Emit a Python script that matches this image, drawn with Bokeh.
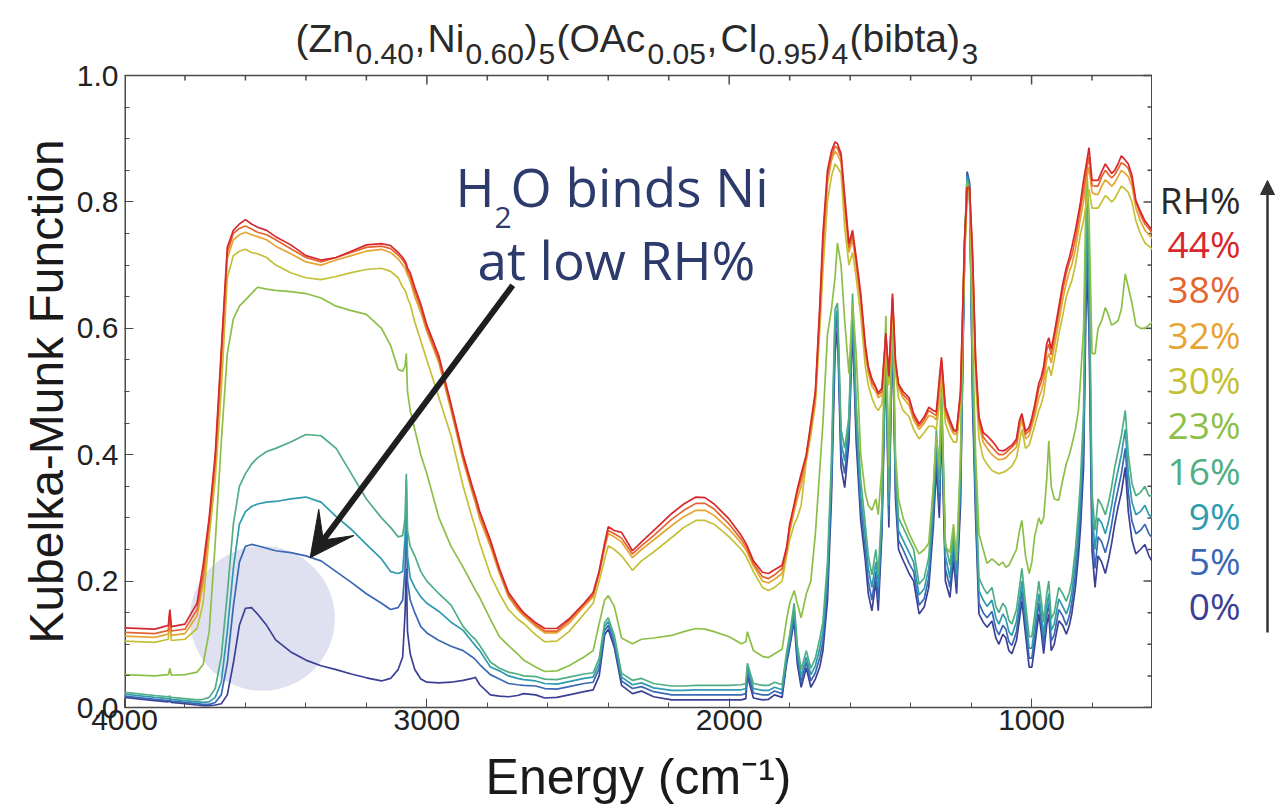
from bokeh.plotting import figure
from bokeh.layouts import row
from bokeh.models import Range1d, Label, Arrow, NormalHead, VeeHead, FixedTicker, PrintfTickFormatter
from bokeh.embed import file_html
from bokeh.resources import INLINE

# ---------------- data ----------------
energy = [4000, 3900, 3855, 3850, 3845, 3800, 3760, 3740, 3720, 3700,
          3680, 3660, 3640, 3620, 3600, 3580, 3560, 3530, 3500, 3450,
          3400, 3350, 3300, 3250, 3200, 3150, 3120, 3095, 3080, 3072,
          3068, 3064, 3055, 3040, 3020, 3000, 2960, 2920, 2880, 2850,
          2840, 2825, 2790, 2760, 2730, 2700, 2680, 2640, 2610, 2570,
          2530, 2480, 2450, 2430, 2412, 2400, 2380, 2356, 2320, 2290,
          2250, 2190, 2150, 2110, 2080, 2050, 2000, 1960, 1945, 1940,
          1920, 1890, 1870, 1850, 1825, 1810, 1800, 1785, 1775, 1762,
          1745, 1730, 1715, 1700, 1690, 1675, 1662, 1650, 1642, 1630,
          1618, 1604, 1592, 1580, 1565, 1550, 1540, 1528, 1515, 1507,
          1495, 1482, 1472, 1460, 1450, 1440, 1425, 1405, 1390, 1372,
          1355, 1340, 1325, 1315, 1305, 1298, 1285, 1270, 1258, 1248,
          1235, 1222, 1213, 1205, 1195, 1185, 1174, 1160, 1147, 1131,
          1118, 1108, 1095, 1085, 1075, 1065, 1050, 1040, 1032, 1020,
          1008, 999, 990, 976, 968, 960, 950, 943, 935, 925,
          910, 897, 885, 875, 867, 855, 845, 838, 828, 818,
          810, 800, 790, 780, 768, 756, 745, 735, 725, 714,
          703, 690, 680, 668, 655, 640, 625, 612, 600]

km_rh0 = [.016, .011, .009, .010, .008, .006, .004, .003, .003, .004,
          .006, .020, .070, .130, .157, .158, .148, .130, .107, .088,
          .075, .066, .060, .053, .047, .042, .046, .060, .080, .150,
          .220, .120, .085, .060, .045, .040, .039, .040, .043, .046,
          .048, .036, .020, .018, .017, .019, .022, .020, .015, .016,
          .020, .025, .028, .050, .115, .124, .095, .035, .022, .026,
          .017, .012, .012, .012, .012, .012, .012, .012, .014, .050,
          .015, .012, .013, .020, .016, .070, .095, .137, .070, .032,
          .063, .032, .045, .065, .090, .169, .328, .560, .600, .380,
          .348, .420, .600, .420, .296, .233, .180, .153, .200, .153,
          .275, .560, .285, .600, .330, .250, .233, .212, .200, .148,
          .159, .190, .285, .380, .300, .450, .200, .174, .233, .180,
          .320, .700, .848, .830, .480, .300, .148, .135, .127, .137,
          .110, .100, .116, .110, .090, .085, .106, .140, .169, .116,
          .064, .064, .095, .148, .120, .085, .130, .148, .090, .100,
          .137, .130, .116, .130, .148, .190, .240, .285, .380, .700,
          .600, .248, .190, .240, .230, .212, .235, .260, .290, .317,
          .340, .380, .310, .265, .243, .250, .258, .240, .230]

km_rh5 = [.018, .013, .011, .012, .010, .008, .006, .005, .005, .008,
          .020, .070, .160, .230, .255, .258, .256, .252, .248, .245,
          .240, .232, .215, .198, .180, .165, .155, .158, .170, .220,
          .300, .200, .170, .150, .128, .118, .106, .097, .090, .080,
          .076, .068, .052, .045, .038, .036, .035, .034, .030, .029,
          .033, .038, .040, .062, .122, .130, .102, .042, .030, .033,
          .025, .020, .020, .020, .020, .020, .020, .020, .022, .058,
          .023, .020, .020, .026, .022, .075, .100, .145, .080, .040,
          .072, .042, .055, .080, .105, .190, .350, .590, .620, .400,
          .370, .440, .620, .440, .315, .250, .200, .170, .215, .170,
          .290, .580, .300, .610, .345, .265, .250, .228, .215, .162,
          .172, .205, .300, .400, .320, .470, .220, .190, .250, .195,
          .340, .710, .845, .825, .500, .320, .165, .150, .142, .152,
          .125, .115, .130, .124, .104, .098, .120, .155, .185, .130,
          .078, .078, .110, .165, .135, .100, .145, .165, .105, .115,
          .155, .145, .130, .145, .165, .210, .260, .310, .410, .740,
          .640, .280, .220, .270, .262, .245, .265, .290, .320, .345,
          .370, .410, .340, .295, .275, .280, .290, .275, .268]

km_rh9 = [.021, .016, .014, .015, .013, .011, .009, .008, .009, .016,
          .040, .120, .220, .290, .310, .318, .322, .325, .326, .330,
          .333, .325, .302, .282, .258, .235, .215, .212, .215, .270,
          .360, .240, .205, .190, .175, .165, .152, .135, .122, .104,
          .098, .090, .064, .058, .050, .046, .044, .042, .038, .037,
          .041, .046, .048, .070, .128, .136, .108, .048, .036, .039,
          .031, .027, .027, .028, .028, .028, .028, .028, .030, .064,
          .030, .027, .027, .032, .028, .080, .106, .155, .090, .050,
          .080, .052, .066, .095, .120, .210, .370, .610, .630, .420,
          .390, .450, .635, .460, .335, .270, .220, .190, .230, .190,
          .305, .590, .320, .620, .360, .280, .265, .245, .230, .178,
          .188, .220, .320, .420, .340, .490, .240, .205, .265, .210,
          .360, .720, .840, .820, .520, .340, .185, .170, .160, .170,
          .142, .132, .148, .140, .120, .114, .136, .170, .200, .146,
          .094, .094, .126, .180, .150, .115, .160, .180, .122, .132,
          .172, .160, .148, .162, .182, .230, .285, .335, .440, .780,
          .680, .310, .250, .300, .292, .275, .295, .320, .350, .375,
          .400, .440, .370, .325, .305, .310, .320, .305, .300]

km_rh16 = [.024, .019, .017, .018, .016, .014, .012, .013, .016, .030,
           .080, .180, .290, .350, .370, .385, .395, .405, .410, .420,
           .432, .430, .410, .370, .330, .300, .285, .270, .272, .300,
           .370, .280, .255, .240, .215, .200, .180, .162, .128, .112,
           .108, .098, .072, .062, .056, .053, .050, .049, .045, .044,
           .048, .053, .055, .078, .134, .142, .114, .054, .043, .046,
           .038, .034, .034, .035, .035, .035, .035, .036, .038, .070,
           .038, .035, .035, .040, .036, .088, .115, .165, .100, .060,
           .090, .062, .078, .110, .135, .230, .390, .630, .640, .440,
           .410, .460, .655, .480, .360, .290, .240, .210, .250, .210,
           .320, .600, .340, .630, .380, .300, .285, .265, .250, .195,
           .205, .238, .340, .440, .360, .510, .260, .225, .280, .230,
           .380, .730, .835, .815, .540, .360, .205, .190, .180, .190,
           .160, .150, .165, .158, .138, .132, .155, .190, .220, .165,
           .112, .112, .145, .200, .170, .135, .180, .200, .140, .150,
           .190, .180, .168, .182, .200, .250, .310, .360, .470, .820,
           .720, .340, .280, .330, .320, .305, .325, .350, .380, .405,
           .430, .470, .400, .355, .335, .340, .350, .335, .335]

km_rh23 = [.052, .050, .052, .062, .051, .052, .056, .068, .120, .260,
           .420, .560, .615, .635, .645, .655, .665, .662, .660, .658,
           .655, .648, .635, .628, .622, .600, .573, .535, .532, .540,
           .560, .500, .470, .440, .400, .370, .300, .255, .222, .195,
           .186, .174, .140, .112, .098, .085, .075, .064, .057, .058,
           .066, .080, .090, .133, .170, .177, .160, .110, .101, .108,
           .110, .114, .120, .125, .124, .120, .112, .101, .104, .120,
           .090, .081, .079, .085, .092, .140, .165, .185, .165, .142,
           .180, .200, .275, .380, .450, .590, .630, .680, .735, .700,
           .612, .528, .640, .560, .400, .340, .320, .312, .330, .305,
           .380, .620, .380, .640, .400, .330, .300, .275, .260, .243,
           .250, .260, .350, .430, .380, .500, .255, .245, .290, .233,
           .400, .740, .830, .810, .580, .400, .275, .250, .228, .235,
           .230, .225, .230, .222, .225, .235, .250, .280, .296, .240,
           .212, .230, .270, .300, .290, .300, .360, .422, .350, .330,
           .328, .360, .386, .400, .415, .440, .470, .520, .600, .860,
           .780, .560, .560, .600, .612, .633, .620, .605, .608, .612,
           .630, .686, .665, .640, .605, .600, .600, .605, .610]

km_rh30 = [.105, .103, .108, .140, .106, .108, .125, .165, .270, .360,
           .500, .680, .715, .722, .725, .720, .718, .712, .700, .688,
           .680, .677, .682, .688, .693, .695, .690, .680, .665, .660,
           .655, .648, .638, .610, .580, .550, .490, .430, .350, .300,
           .285, .260, .210, .180, .155, .140, .133, .115, .104, .105,
           .120, .148, .165, .200, .235, .256, .250, .240, .217, .232,
           .246, .269, .285, .296, .296, .290, .270, .250, .240, .235,
           .215, .190, .185, .190, .200, .240, .265, .290, .300, .320,
           .390, .430, .480, .600, .690, .800, .840, .860, .855, .845,
           .760, .700, .720, .680, .620, .540, .510, .490, .475, .470,
           .480, .570, .510, .630, .530, .490, .470, .460, .440, .425,
           .435, .445, .445, .440, .480, .530, .450, .430, .420, .420,
           .480, .700, .810, .805, .680, .520, .425, .395, .385, .375,
           .372, .370, .372, .374, .378, .382, .395, .420, .440, .410,
           .415, .430, .445, .470, .480, .495, .530, .540, .525, .550,
           .590, .620, .650, .665, .675, .700, .730, .750, .770, .800,
           .820, .790, .790, .790, .800, .810, .805, .800, .805, .815,
           .825, .820, .815, .800, .770, .750, .735, .730, .725]

km_rh32 = [.113, .111, .116, .145, .114, .117, .145, .195, .285, .380,
           .540, .710, .740, .748, .752, .748, .745, .740, .730, .718,
           .705, .700, .708, .715, .722, .725, .720, .710, .700, .695,
           .690, .685, .675, .650, .625, .595, .545, .470, .390, .340,
           .325, .298, .255, .212, .175, .155, .145, .128, .118, .118,
           .133, .160, .175, .212, .252, .275, .270, .262, .237, .250,
           .265, .288, .302, .312, .312, .304, .282, .260, .250, .245,
           .224, .200, .197, .203, .212, .247, .278, .310, .330, .350,
           .395, .440, .490, .620, .720, .830, .865, .880, .875, .862,
           .790, .720, .740, .700, .640, .560, .530, .508, .500, .490,
           .495, .585, .520, .645, .540, .505, .490, .478, .455, .440,
           .450, .462, .460, .455, .500, .545, .465, .445, .433, .432,
           .490, .720, .818, .815, .700, .540, .448, .420, .410, .400,
           .395, .392, .393, .395, .400, .405, .412, .440, .455, .425,
           .430, .445, .460, .490, .500, .515, .550, .560, .545, .570,
           .610, .645, .672, .690, .700, .725, .755, .775, .800, .835,
           .855, .815, .812, .812, .825, .835, .830, .825, .830, .840,
           .850, .845, .840, .825, .790, .770, .755, .748, .742]

km_rh38 = [.119, .117, .122, .150, .121, .124, .155, .210, .292, .390,
           .555, .720, .750, .758, .762, .757, .752, .748, .740, .726,
           .712, .705, .712, .720, .728, .730, .726, .716, .708, .702,
           .698, .690, .682, .658, .632, .600, .550, .475, .395, .345,
           .330, .305, .260, .216, .178, .158, .148, .131, .121, .121,
           .137, .163, .178, .214, .256, .280, .275, .268, .243, .256,
           .272, .298, .312, .323, .323, .314, .290, .266, .255, .250,
           .228, .207, .204, .210, .220, .250, .285, .318, .340, .362,
           .398, .445, .495, .630, .735, .840, .872, .888, .885, .870,
           .800, .728, .748, .706, .648, .568, .536, .514, .505, .495,
           .500, .590, .523, .650, .545, .510, .495, .485, .460, .445,
           .455, .470, .465, .462, .510, .550, .470, .450, .437, .436,
           .495, .728, .820, .820, .710, .545, .455, .428, .420, .412,
           .405, .400, .400, .403, .408, .412, .420, .450, .462, .432,
           .438, .452, .470, .505, .515, .530, .565, .575, .558, .584,
           .625, .660, .688, .705, .715, .742, .770, .790, .818, .850,
           .872, .826, .825, .825, .840, .850, .843, .838, .843, .852,
           .862, .858, .853, .835, .800, .780, .765, .758, .750]

km_rh44 = [.126, .124, .130, .155, .128, .132, .165, .225, .300, .400,
           .565, .728, .755, .765, .772, .765, .760, .755, .745, .732,
           .715, .708, .712, .722, .732, .734, .731, .720, .712, .706,
           .702, .695, .688, .665, .638, .605, .556, .480, .400, .350,
           .335, .310, .265, .220, .182, .162, .150, .134, .125, .125,
           .140, .165, .182, .216, .260, .286, .280, .277, .248, .262,
           .280, .307, .322, .333, .332, .322, .298, .272, .260, .255,
           .232, .214, .212, .218, .225, .254, .290, .322, .345, .370,
           .400, .450, .500, .640, .750, .850, .880, .895, .892, .876,
           .810, .734, .755, .712, .655, .575, .540, .520, .507, .498,
           .505, .592, .525, .655, .548, .512, .500, .490, .465, .449,
           .460, .475, .470, .468, .520, .554, .475, .455, .440, .438,
           .500, .735, .823, .823, .718, .550, .460, .435, .430, .422,
           .414, .407, .406, .408, .412, .415, .425, .455, .465, .437,
           .443, .458, .478, .513, .523, .540, .575, .585, .567, .592,
           .633, .670, .696, .712, .728, .755, .781, .800, .834, .862,
           .886, .834, .834, .834, .848, .860, .852, .845, .850, .860,
           .873, .866, .860, .842, .802, .785, .770, .762, .755]

series = [km_rh0, km_rh5, km_rh9, km_rh16, km_rh23, km_rh30, km_rh32, km_rh38, km_rh44]
rh_labels = ["0%", "5%", "9%", "16%", "23%", "30%", "32%", "38%", "44%"]
rh_colors = ["#3b3f95", "#3a68b4", "#2f9ab0", "#4fae83", "#8dbf48",
             "#c4c035", "#e6a433", "#e4652e", "#d7282d"]

x_major = [4000, 3000, 2000, 1000]
x_minor = [3800, 3600, 3400, 3200, 2800, 2600, 2400, 2200, 1800, 1600,
           1400, 1200, 800]
y_major = [0.0, 0.2, 0.4, 0.6, 0.8, 1.0]
y_minor = [0.05, 0.1, 0.15, 0.25, 0.3, 0.35, 0.45, 0.5, 0.55, 0.65,
           0.7, 0.75, 0.85, 0.9, 0.95]

title_parts = [("(Zn", "m"), ("0.40", "s"), (",", "m"), ("Ni", "m"),
               ("0.60", "s"), (")", "m"), ("5", "s"), ("(OAc", "m"),
               ("0.05", "s"), (",", "m"), ("Cl", "m"), ("0.95", "s"),
               (")", "m"), ("4", "s"), ("(bibta)", "m"), ("3", "s")]

# highlight circle and arrow (data coordinates)
highlight_x, highlight_y = [3544], [0.141]
arrow_from = (2716, 0.668)
arrow_to = (3386, 0.237)

# ---------------- layout constants (page px) ----------------
W, H = 1280, 810
YLAB_W = 72            # strip holding the rotated y-axis title
FL, FR, FT, FB = 124, 1152, 75, 707   # data box edges on the page
MAIN_W = FR - YLAB_W
LEG_W = W - FR         # strip holding the RH% legend
X0, X1, Y0, Y1 = 4000, 600, 0.0, 1.0
px_per_x = (FR - FL) / (X0 - X1)
px_per_y = (FB - FT) / (Y1 - Y0)
Y_TOP = Y1 + FT / px_per_y     # frame reaches the page top (room for the title)

FONT = "Liberation Sans"
AXC = "#4a4a4a"
NAVY = "#2c3a6c"


def strip_fig(w, x0, x1):
    f = figure(width=w, height=H, output_backend="svg", toolbar_location=None,
               x_range=Range1d(x0, x1), y_range=Range1d(FB, 0),
               x_axis_location=None, y_axis_location=None,
               min_border_left=0, min_border_right=0, min_border_top=0,
               min_border_bottom=H - FB)
    f.grid.visible = False
    f.outline_line_color = None
    f.background_fill_color = "white"
    f.border_fill_color = "white"
    return f


# ---------------- y-axis title strip ----------------
ylab = strip_fig(YLAB_W, 0, YLAB_W)
ylab.add_layout(Label(x=46, y=(FT + FB) / 2, text="Kubelka-Munk Function", angle=90,
                      angle_units="deg", text_font=FONT, text_font_size="48px",
                      text_color="#1a1a1a", text_align="center", text_baseline="middle"))

# ---------------- main plot ----------------
p = figure(width=MAIN_W, height=H, output_backend="svg", toolbar_location=None,
           x_range=Range1d(X0, X1), y_range=Range1d(Y0, Y_TOP),
           min_border_left=FL - YLAB_W, min_border_right=0,
           min_border_top=0, min_border_bottom=H - FB)
p.xgrid.visible = False
p.ygrid.visible = False
p.outline_line_color = None
p.background_fill_color = "white"
p.border_fill_color = "white"

p.xaxis.ticker = FixedTicker(ticks=x_major, minor_ticks=x_minor)
p.xaxis.axis_label = "Energy (cm\u207b\u00b9)"
p.yaxis.ticker = FixedTicker(ticks=y_major, minor_ticks=y_minor)
p.yaxis.formatter = PrintfTickFormatter(format="%.1f")

for ax in list(p.xaxis) + list(p.yaxis):
    ax.axis_line_color = AXC
    ax.axis_line_width = 1.5
    ax.major_tick_in = 9
    ax.major_tick_out = 0
    ax.minor_tick_in = 5
    ax.minor_tick_out = 0
    ax.major_tick_line_color = AXC
    ax.minor_tick_line_color = AXC
    ax.major_label_text_font = FONT
    ax.major_label_text_font_size = "30px"
    ax.major_label_text_color = "#222222"
    ax.axis_label_text_font = FONT
    ax.axis_label_text_font_style = "normal"
    ax.axis_label_text_color = "#1a1a1a"
p.yaxis.axis_line_color = None

p.xaxis.major_label_standoff = 2
p.xaxis.axis_label_standoff = 16
p.xaxis.axis_label_text_font_size = "50px"
p.yaxis.major_label_standoff = 6

# box edges of the data area (left, right, top) and mirrored inward ticks
p.segment(x0=[X0, X1], y0=[Y0, Y0], x1=[X0, X1], y1=[Y1, Y1], line_color=AXC, line_width=3)
p.segment(x0=[X0], y0=[Y1], x1=[X1], y1=[Y1], line_color=AXC, line_width=1.5)
top_major = [t for t in x_major if t != X0]
p.segment(x0=top_major, y0=[Y1] * len(top_major), x1=top_major,
          y1=[Y1 - 9 / px_per_y] * len(top_major), line_color=AXC, line_width=1.5)
p.segment(x0=x_minor, y0=[Y1] * len(x_minor), x1=x_minor,
          y1=[Y1 - 5 / px_per_y] * len(x_minor), line_color=AXC, line_width=1.5)
p.segment(x0=[X1] * len(y_major), y0=y_major, x1=[X1 + 9 / px_per_x] * len(y_major),
          y1=y_major, line_color=AXC, line_width=1.5)
p.segment(x0=[X1] * len(y_minor), y0=y_minor, x1=[X1 + 5 / px_per_x] * len(y_minor),
          y1=y_minor, line_color=AXC, line_width=1.5)

# highlight circle (behind the spectra)
p.scatter(highlight_x, highlight_y, marker="circle", size=145,
          fill_color="#dfe1f1", line_color=None)

# spectra
for ys, c in zip(series, rh_colors):
    p.line(energy, ys, line_color=c, line_width=1.7)

# arrow to the 5% curve
p.add_layout(Arrow(end=VeeHead(size=44, fill_color="#1e1e1e", line_color="#1e1e1e"),
                   x_start=arrow_from[0], y_start=arrow_from[1],
                   x_end=arrow_to[0], y_end=arrow_to[1],
                   line_width=6, line_color="#1e1e1e"))


def put_frame(txt, px, py, size, color, font="Open Sans", align="left"):
    # px, py are page pixels; converted to screen units of the frame
    p.add_layout(Label(x=px - FL, y=FB - py, x_units="screen", y_units="screen",
                       text=txt, text_font=font, text_font_size=f"{size}px",
                       text_color=color, text_align=align, text_baseline="middle"))


# title with subscripts (inside the frame, above the data box)
title_x = [295, 355, 414, 427, 465, 524, 538, 556, 647, 706, 720, 758, 817, 831, 849, 961]
for (txt, kind), px in zip(title_parts, title_x):
    if kind == "m":
        put_frame(txt, px, 38, 39, "#2a2a2a", FONT)
    else:
        put_frame(txt, px, 53, 30, "#2a2a2a", FONT)

# annotation
put_frame("H", 455, 186, 53, NAVY)
put_frame("2", 494, 217, 30, NAVY)
put_frame("O binds Ni", 510, 186, 53, NAVY)
put_frame("at low RH%", 477, 259, 53, NAVY)

# ---------------- RH% legend strip ----------------
leg = strip_fig(LEG_W, FR, W)
leg.add_layout(Label(x=1240, y=199, text="RH%", text_font="Open Sans", text_font_size="37px",
                     text_color="#2a2a2a", text_align="right", text_baseline="middle"))
for i, (lab, c) in enumerate(zip(rh_labels[::-1], rh_colors[::-1])):
    leg.add_layout(Label(x=1240, y=243 + 45.3 * i, text=lab, text_font="Open Sans",
                         text_font_size="37px", text_color=c, text_align="right",
                         text_baseline="middle"))
leg.add_layout(Arrow(end=NormalHead(size=14, fill_color="#333333", line_color="#333333"),
                     x_start=1267, y_start=632, x_end=1267, y_end=180,
                     line_width=2.5, line_color="#333333"))

layout = row(ylab, p, leg, spacing=0)
open("out.html", "w").write(file_html(layout, INLINE))
